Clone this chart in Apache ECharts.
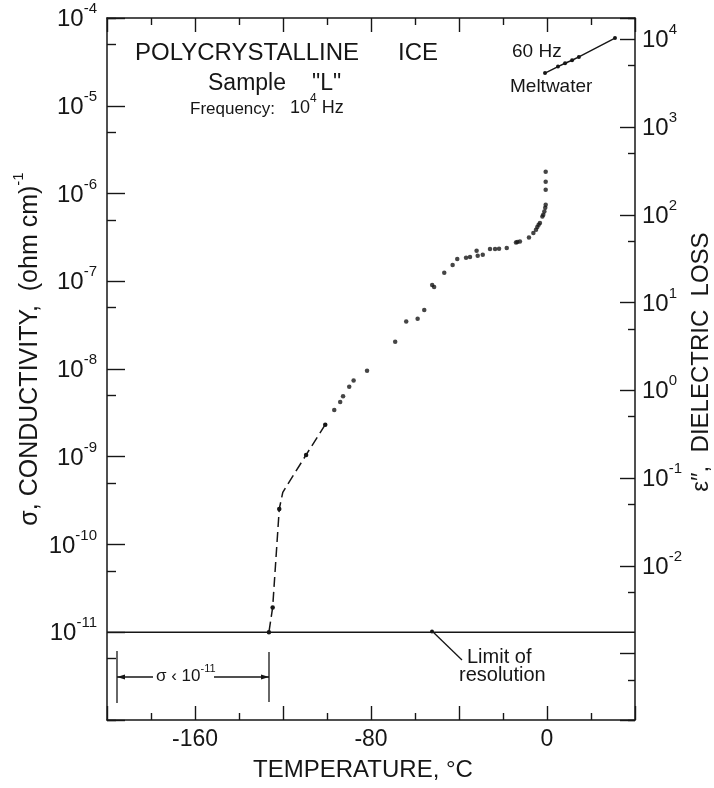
<!DOCTYPE html>
<html><head><meta charset="utf-8">
<script src="https://cdn.jsdelivr.net/npm/echarts@6/dist/echarts.min.js"></script>
<style>html,body{margin:0;padding:0;background:#fff}#c{width:714px;height:788px}</style>
</head><body><div id="c"></div>
<script>
// ---------- data ----------
const xTickLabels = [-160, -80, 0];
const leftExponents = [-4, -5, -6, -7, -8, -9, -10, -11];
const rightExponents = [4, 3, 2, 1, 0, -1, -2];

// 10^4 Hz conductivity points (temperature degC, sigma (ohm cm)^-1)
const dotTemp = [-96.7, -94.0, -92.7, -89.9, -87.9, -81.8, -69.0, -64.0, -58.8, -55.8, -52.2, -51.3, -46.7, -42.9,
  -40.8, -36.8, -35.0, -32.0, -31.5, -29.2, -25.9, -23.6, -21.8, -18.3, -14.1, -13.5, -12.3, -8.2, -6.2, -5.0,
  -4.4, -3.8, -3.2, -2.1, -1.7, -1.2, -0.8, -0.6, -0.6, -0.6, -0.6];
const dotSigma = [3.41e-9, 4.21e-9, 4.88e-9, 6.28e-9, 7.41e-9, 9.58e-9, 2.05e-8, 3.48e-8, 3.74e-8, 4.70e-8, 9.06e-8, 8.6e-8, 1.25e-7, 1.53e-7,
  1.79e-7, 1.85e-7, 1.89e-7, 2.23e-7, 1.95e-7, 2.01e-7, 2.33e-7, 2.33e-7, 2.35e-7, 2.39e-7, 2.77e-7, 2.81e-7, 2.84e-7, 3.16e-7, 3.55e-7, 3.87e-7,
  4.15e-7, 4.41e-7, 4.61e-7, 5.48e-7, 5.73e-7, 6.25e-7, 6.88e-7, 7.45e-7, 1.10e-6, 1.36e-6, 1.77e-6];

// low-temperature dashed branch
const dashTemp = [-100.8, -109.5, -120.1, -121.7, -124.7, -126.4];
const dashSigma = [2.32e-9, 1.05e-9, 3.93e-10, 2.54e-10, 1.92e-11, 1.0e-11];
const dashMarked = [true, true, false, true, true, true];

// 60 Hz meltwater
const meltTemp = [-0.9, 5.0, 8.2, 11.4, 14.5, 30.9];
const meltSigma = [2.36e-5, 2.8e-5, 3.05e-5, 3.3e-5, 3.6e-5, 5.91e-5];

// limit of resolution
const limitTemp = [-200, 40];
const limitSigma = [1e-11, 1e-11];
// ---------- end data ----------

const FONT = "'Liberation Sans', Arial, sans-serif";
const INK = '#161616';

function supLabel(exps) {
  return function (v) {
    const l = Math.log10(v);
    const e = Math.round(l);
    if (Math.abs(l - e) > 1e-6 || exps.indexOf(e) < 0) return '';
    return '{b|10}{s|' + e + '}';
  };
}
const richSup = {
  b: { fontSize: 24, fontFamily: FONT, color: INK, lineHeight: 30, verticalAlign: 'bottom' },
  s: { fontSize: 15, fontFamily: FONT, color: INK, lineHeight: 18, verticalAlign: 'top' }
};

const chart = echarts.init(document.getElementById('c'), null, { renderer: 'canvas' });

const axisLine = { show: true, onZero: false, lineStyle: { color: INK, width: 1.5 } };

const option = {
  backgroundColor: '#ffffff',
  animation: false,
  grid: { left: 107, top: 18, width: 528, height: 702, containLabel: false, outerBoundsMode: 'none' },
  xAxis: [
    {
      type: 'value', position: 'bottom', min: -200, max: 40, interval: 40,
      axisLine: axisLine,
      axisTick: { show: true, inside: true, length: 14, lineStyle: { color: INK, width: 1.4 } },
      minorTick: { show: true, splitNumber: 2, length: 7, lineStyle: { color: INK, width: 1.4 } },
      splitLine: { show: false },
      axisLabel: {
        margin: 8, fontSize: 23, fontFamily: FONT, color: INK,
        formatter: v => (xTickLabels.indexOf(v) >= 0 ? String(v) : '')
      }
    },
    {
      type: 'value', position: 'top', min: -200, max: 40, interval: 40,
      axisLine: axisLine,
      axisTick: { show: true, inside: true, length: 14, lineStyle: { color: INK, width: 1.4 } },
      minorTick: { show: true, splitNumber: 2, length: 7, lineStyle: { color: INK, width: 1.4 } },
      splitLine: { show: false },
      axisLabel: { show: false }
    }
  ],
  yAxis: [
    {
      type: 'log', logBase: 10, position: 'left', min: 1e-12, max: 1e-4,
      axisLine: axisLine,
      axisTick: { show: true, inside: true, length: 18, lineStyle: { color: INK, width: 1.4 } },
      splitLine: { show: false },
      axisLabel: { margin: 10, padding: [0, 0, 3, 0], formatter: supLabel(leftExponents), rich: richSup }
    },
    {
      type: 'log', logBase: 10, position: 'left', min: 2e-12, max: 2e-4,
      axisLine: { show: false, onZero: false },
      axisTick: { show: true, inside: true, length: 9, lineStyle: { color: INK, width: 1.4 } },
      splitLine: { show: false },
      axisLabel: { show: false }
    },
    {
      type: 'log', logBase: 10, position: 'right', min: 1.75e-4, max: 1.75e4,
      axisLine: axisLine,
      axisTick: { show: true, inside: true, length: 15, lineStyle: { color: INK, width: 1.4 } },
      splitLine: { show: false },
      axisLabel: { margin: 7, padding: [0, 0, 3, 0], formatter: supLabel(rightExponents), rich: richSup }
    },
    {
      type: 'log', logBase: 10, position: 'right', min: 3.5e-4, max: 3.5e4,
      axisLine: { show: false, onZero: false },
      axisTick: { show: true, inside: true, length: 7, lineStyle: { color: INK, width: 1.4 } },
      splitLine: { show: false },
      axisLabel: { show: false }
    }
  ],
  series: [
    {
      type: 'line', xAxisIndex: 0, yAxisIndex: 0, symbol: 'none', silent: true,
      lineStyle: { color: INK, width: 1.4 },
      data: limitTemp.map((t, i) => [t, limitSigma[i]])
    },
    {
      type: 'scatter', xAxisIndex: 0, yAxisIndex: 0,
      symbol: 'circle', symbolSize: 4.5,
      itemStyle: { color: INK },
      data: dotTemp.map((t, i) => [t, dotSigma[i]])
    },
    {
      type: 'line', xAxisIndex: 0, yAxisIndex: 0,
      symbol: 'circle', symbolSize: 4.5, showSymbol: true,
      itemStyle: { color: INK },
      lineStyle: { color: INK, width: 1.5, type: [10, 5] },
      data: dashTemp.map((t, i) => ({ value: [t, dashSigma[i]], symbol: dashMarked[i] ? 'circle' : 'none' }))
    },
    {
      type: 'line', xAxisIndex: 0, yAxisIndex: 0,
      symbol: 'circle', symbolSize: 4, showSymbol: true,
      itemStyle: { color: INK },
      lineStyle: { color: INK, width: 1.4 },
      data: meltTemp.map((t, i) => [t, meltSigma[i]])
    }
  ],
  graphic: {
    elements: [
      { type: 'text', x: 135, y: 53, style: { text: 'POLYCRYSTALLINE', font: '24px ' + FONT, fill: INK, align: 'left', verticalAlign: 'middle' } },
      { type: 'text', x: 398, y: 53, style: { text: 'ICE', font: '24px ' + FONT, fill: INK, align: 'left', verticalAlign: 'middle' } },
      { type: 'text', x: 208, y: 84, style: { text: 'Sample', font: '23px ' + FONT, fill: INK, align: 'left', verticalAlign: 'middle' } },
      { type: 'text', x: 312, y: 84, style: { text: '"L"', font: '23px ' + FONT, fill: INK, align: 'left', verticalAlign: 'middle' } },
      { type: 'text', x: 190, y: 109, style: { text: 'Frequency:', font: '17px ' + FONT, fill: INK, align: 'left', verticalAlign: 'middle' } },
      { type: 'text', x: 290, y: 105, style: {
          text: '{b|10}{s|4}{b| Hz}', align: 'left', verticalAlign: 'middle',
          rich: {
            b: { fontSize: 18, fontFamily: FONT, fill: INK, lineHeight: 24, verticalAlign: 'bottom' },
            s: { fontSize: 12, fontFamily: FONT, fill: INK, lineHeight: 13, verticalAlign: 'top' }
          } } },
      { type: 'text', x: 512, y: 52, style: { text: '60 Hz', font: '19px ' + FONT, fill: INK, align: 'left', verticalAlign: 'middle' } },
      { type: 'text', x: 510, y: 87, style: { text: 'Meltwater', font: '19px ' + FONT, fill: INK, align: 'left', verticalAlign: 'middle' } },
      { type: 'text', x: 467, y: 657, style: { text: 'Limit of', font: '20px ' + FONT, fill: INK, align: 'left', verticalAlign: 'middle' } },
      { type: 'text', x: 459, y: 675, style: { text: 'resolution', font: '20px ' + FONT, fill: INK, align: 'left', verticalAlign: 'middle' } },
      { type: 'line', shape: { x1: 432, y1: 631, x2: 462, y2: 660 }, style: { stroke: INK, lineWidth: 1.3 } },
      { type: 'circle', shape: { cx: 432, cy: 631.5, r: 2 }, style: { fill: INK } },
      // sigma < 1e-11 bracket
      { type: 'line', shape: { x1: 117, y1: 651, x2: 117, y2: 703 }, style: { stroke: INK, lineWidth: 1.3 } },
      { type: 'line', shape: { x1: 269, y1: 652, x2: 269, y2: 702 }, style: { stroke: INK, lineWidth: 1.3 } },
      { type: 'line', shape: { x1: 117, y1: 677, x2: 153, y2: 677 }, style: { stroke: INK, lineWidth: 1.3 } },
      { type: 'line', shape: { x1: 214, y1: 677, x2: 269, y2: 677 }, style: { stroke: INK, lineWidth: 1.3 } },
      { type: 'polygon', shape: { points: [[117, 677], [125, 674.5], [125, 679.5]] }, style: { fill: INK } },
      { type: 'polygon', shape: { points: [[269, 677], [261, 674.5], [261, 679.5]] }, style: { fill: INK } },
      { type: 'text', x: 156, y: 674, style: {
          text: '{b|σ ‹ 10}{s|-11}', align: 'left', verticalAlign: 'middle',
          rich: {
            b: { fontSize: 17, fontFamily: FONT, fill: INK, lineHeight: 22, verticalAlign: 'bottom' },
            s: { fontSize: 11, fontFamily: FONT, fill: INK, lineHeight: 12, verticalAlign: 'top' }
          } } },
      // axis titles
      { type: 'text', x: 363, y: 770, style: { text: 'TEMPERATURE, °C', font: '24px ' + FONT, fill: INK, align: 'center', verticalAlign: 'middle' } },
      { type: 'text', x: 27, y: 349, rotation: Math.PI / 2, style: {
          text: '{t|σ, CONDUCTIVITY,  (ohm cm)}{s|-1}', align: 'center', verticalAlign: 'middle',
          rich: {
            t: { fontSize: 25, fontFamily: FONT, fill: INK, lineHeight: 32, verticalAlign: 'bottom' },
            s: { fontSize: 15, fontFamily: FONT, fill: INK, lineHeight: 16, verticalAlign: 'top' }
          } } },
      { type: 'text', x: 701, y: 362, rotation: Math.PI / 2, style: {
          text: 'ε″,  DIELECTRIC  LOSS', font: '24px ' + FONT, fill: INK, align: 'center', verticalAlign: 'middle' } }
    ]
  }
};
chart.setOption(option);
</script>
</body></html>
